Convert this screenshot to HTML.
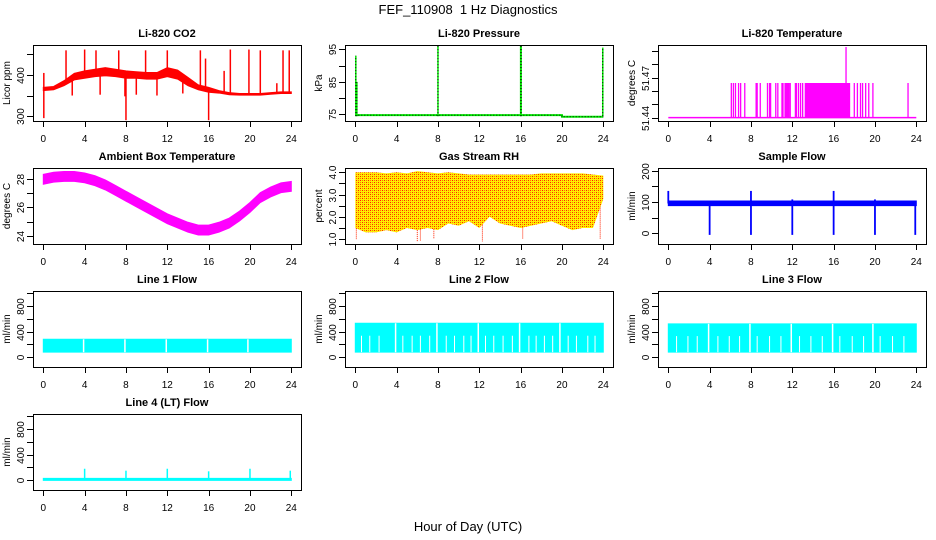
<!DOCTYPE html>
<html><head><meta charset="utf-8">
<style>
html,body{margin:0;padding:0;background:#fff;}
svg{display:block;font-family:"Liberation Sans",Arial,sans-serif;}
</style></head>
<body>
<svg id="chart" width="936" height="540" viewBox="0 0 936 540" xmlns="http://www.w3.org/2000/svg">
<defs>
<pattern id="rhpat" width="4" height="4" patternUnits="userSpaceOnUse">
<rect width="4" height="4" fill="#ffee00"/>
<rect x="0" y="0" width="1" height="1" fill="#ff2200"/>
<rect x="2" y="2" width="1" height="1" fill="#ff2200"/>
<rect x="2" y="0" width="1" height="1" fill="#ff7700"/>
<rect x="0" y="2" width="1" height="1" fill="#ff7700"/>
</pattern>
</defs>
<text x="468" y="14" text-anchor="middle" font-size="13">FEF_110908&#160; 1 Hz Diagnostics</text>
<text x="468" y="531" text-anchor="middle" font-size="13">Hour of Day (UTC)</text>
</svg>
<script>
// ---- data ----
const hours = [0,1,2,3,4,5,6,7,8,9,10,11,12,13,14,15,16,17,18,19,20,21,22,23,24];
const xTicks = [0,4,8,12,16,20,24];
// CO2
const co2Low  = [362,364,374,388,392,396,398,396,392,392,390,390,396,390,374,364,358,356,352,351,351,351,353,355,355];
const co2High = [370,372,386,404,410,414,418,414,410,408,406,406,418,412,394,376,370,362,357,355,355,355,357,359,359];
const co2SpikeHours  = [0.05,2.2,4.0,5.1,7.3,9.9,12.0,15.2,15.7,17.5,18.1,19.9,21.0,23.2,23.8,22.6,0.05,8.0,16.0,7.9,2.8,5.5,9.0,11.0,13.5];
const co2SpikeValues = [405,460,462,460,460,460,460,460,440,410,462,462,460,460,460,380,295,290,290,348,350,352,352,350,355];
// Pressure
const presBaseHours  = [0,20,20,24];
const presBaseValues = [74.8,74.8,74.3,74.3];
const presSpikeHours  = [0.05,0.15,8.0,16.0,16.05,23.95];
const presSpikeValues = [93,85,96,96,96,95.5];
// Li-820 temperature
const tempBase = 51.44;
const tempHigh = 51.466;
const tempPulseHours = [6.1,6.3,6.5,6.8,7.0,7.4,8.5,8.6,8.9,9.6,9.8,9.9,10.4,10.6,11.0,11.1,11.3,11.45,11.6,11.8,12.3,12.4,12.6,12.8,13.0,18.0,18.3,18.6,18.8,19.1,19.4,19.8,23.2];
const tempBlockStart = [13.2,11.3];
const tempBlockEnd   = [17.6,11.75];
const tempSpikeHour = 17.2, tempSpikeValue = 51.493;
// Ambient box temperature
const ambMid = [28.0,28.15,28.2,28.2,28.1,27.9,27.6,27.2,26.8,26.4,26.0,25.6,25.2,24.9,24.6,24.4,24.4,24.6,24.9,25.4,26.0,26.7,27.1,27.4,27.5];
const ambHalf = 0.35;
// Gas stream RH
const rhHigh = [4.0,4.0,4.0,3.95,4.0,3.95,4.05,4.0,3.95,4.0,3.95,3.9,3.9,3.9,3.9,3.9,3.9,3.9,3.95,3.95,3.95,3.95,3.95,3.9,3.85];
const rhLow  = [1.5,1.3,1.3,1.4,1.3,1.5,1.4,1.5,1.4,1.7,1.6,1.8,1.5,2.0,1.7,1.6,1.5,1.6,1.7,1.8,1.6,1.4,1.5,1.5,2.8];
const rhDipHours  = [0.1,6.0,6.3,7.6,12.3,16.2,23.7];
const rhDipValues = [1.0,0.9,0.9,1.0,0.9,1.0,1.0];
// Sample flow
const sfLow = 88, sfHigh = 103;
const sfSpikeHours  = [0.0,4.0,8.0,8.0,12.0,12.0,16.0,16.0,20.0,20.0,23.9];
const sfSpikeValues = [135,-5,-5,135,-5,108,-5,135,-5,108,-5];
// Line flows
const l1Low = 80, l1High = 280;
const l2Low = 80, l2High = 530;
const l3Low = 80, l3High = 520;
const flowGapHours = [3.9,7.9,11.9,15.9,19.8];
const l2StreakHours = [0.6,1.4,2.3,4.6,5.5,6.3,7.2,8.8,9.6,10.5,11.2,12.6,13.4,14.3,15.2,16.8,17.5,18.3,19.1,20.6,21.4,22.5,23.2];
const l3StreakHours = [0.8,1.9,2.8,4.8,5.9,6.9,8.6,9.8,10.9,12.7,13.8,14.9,16.6,17.8,18.9,20.5,21.7,22.8];
const l4Base = 15;
const l4SpikeHours  = [4.0,8.0,12.0,16.0,20.0,23.9];
const l4SpikeValues = [180,150,180,140,180,150];

// ---- layout ----
const NS = "http://www.w3.org/2000/svg";
const svg = document.getElementById('chart');
const cols = [33,345,658], rows = [45,168,291,414], PW = 268, PH = 76;
function el(tag, attrs, parent){ const e=document.createElementNS(NS,tag); for(const k in attrs) e.setAttribute(k,attrs[k]); (parent||svg).appendChild(e); return e; }

function makePanel(c, r, title, ylab, ylim, yticks, ylabels, name){
  const L = cols[c], T = rows[r];
  const g = el('g', {});
  
  
  const sx = h => L + 10.3 + h * (248/24);
  const sy = v => T + PH - (v - ylim[0]) / (ylim[1] - ylim[0]) * PH;
  const plot = el('g', {}, g);
  
  
  const box = el('rect', {x:L+0.5, y:T+0.5, width:PW, height:PH, fill:'none', stroke:'#000', 'stroke-width':1}, g);
  
  
  const t = el('text', {x:L+PW/2, y:T-8, 'text-anchor':'middle', 'font-size':11, 'font-weight':'bold'}, g);
  t.textContent = title;
  
  
  const yl = el('text', {x:0, y:0, 'text-anchor':'middle', 'font-size':10, transform:`translate(${L-23},${T+PH/2}) rotate(-90)`}, g);
  yl.textContent = ylab;
  
  
  const xa = el('g', {}, g);
  
  
  el('line', {x1:sx(0), x2:sx(24), y1:T+PH+0.5, y2:T+PH+0.5, stroke:'#000'}, xa);
  xTicks.forEach(v => {
    el('line', {x1:Math.round(sx(v))+0.5, x2:Math.round(sx(v))+0.5, y1:T+PH, y2:T+PH+6, stroke:'#000'}, xa);
    const tl = el('text', {x:sx(v), y:T+PH+21, 'text-anchor':'middle', 'font-size':10}, xa);
    tl.textContent = v;
    
    
  });
  const ya = el('g', {}, g);
  
  
  el('line', {x1:L+0.5, x2:L+0.5, y1:sy(yticks[0]), y2:sy(yticks[yticks.length-1]), stroke:'#000'}, ya);
  yticks.forEach((v,i) => {
    const y = Math.round(sy(v))+0.5;
    el('line', {x1:L-6, x2:L, y1:y, y2:y, stroke:'#000'}, ya);
    if (ylabels[i] !== '') {
      const tl = el('text', {x:0, y:0, 'text-anchor':'middle', 'font-size':10, transform:`translate(${L-9},${y}) rotate(-90)`}, ya);
      tl.textContent = ylabels[i];
      
      
    }
  });
  const cid = 'clip-' + name;
  const cp = el('clipPath', {id:cid}, svg);
  el('rect', {x:L, y:T, width:PW+1, height:PH+1}, cp);
  plot.setAttribute('clip-path', `url(#${cid})`);
  return {sx, sy, plot};
}
function band(p, xs, lo, hi, fill){
  let pts = xs.map((h,i)=>`${p.sx(h)},${p.sy(hi[i])}`);
  for (let i=xs.length-1;i>=0;i--) pts.push(`${p.sx(xs[i])},${p.sy(lo[i])}`);
  const poly = el('polygon', {points:pts.join(' '), fill:fill, stroke:fill.startsWith('url')?'none':fill, 'stroke-width':1}, p.plot);
  
  
}
function vseg(p, h, v0, v1, color, w, dash){
  const a = {x1:p.sx(h), x2:p.sx(h), y1:p.sy(v0), y2:p.sy(v1), stroke:color, 'stroke-width':w||1};
  if (dash) a['stroke-dasharray'] = dash;
  const ln = el('line', a, p.plot);
  
  
}
function interp(arr, h){ const i=Math.min(23,Math.floor(h)); const f=h-i; return arr[i]*(1-f)+arr[i+1]*f; }

// CO2
let p = makePanel(0,0,'Li-820 CO2','Licor ppm',[288,473],[300,350,400,450],['300','','400',''],'co2');
band(p, hours, co2Low, co2High, '#ff0000');
co2SpikeHours.forEach((h,i)=> vseg(p, h, (interp(co2Low,h)+interp(co2High,h))/2, co2SpikeValues[i], '#ff0000', 1.5));

// Pressure
p = makePanel(1,0,'Li-820 Pressure','kPa',[73,96.3],[75,80,85,90,95],['75','','85','','95'],'pressure');
{
  const pts = presBaseHours.map((h,i)=>`${p.sx(h)},${p.sy(presBaseValues[i])}`).join(' ');
  const pl = el('polyline', {points:pts, fill:'none', stroke:'#00ee00', 'stroke-width':2}, p.plot);
  
  
  const pd = el('polyline', {points:pts, fill:'none', stroke:'#000', 'stroke-width':1, 'stroke-dasharray':'1,2'}, p.plot);
  
  
  presSpikeHours.forEach((h,i)=>{ vseg(p,h,74.5,presSpikeValues[i],'#00ee00',1.5); vseg(p,h,74.5,presSpikeValues[i],'#000',1,'1,2'); });
}

// Li-820 temperature
p = makePanel(2,0,'Li-820 Temperature','degrees C',[51.4375,51.4945],[51.44,51.45,51.46,51.47,51.48,51.49],['51.44','','','51.47','',''],'li820-temperature');
{
  const bl = el('line', {x1:p.sx(0), x2:p.sx(24), y1:p.sy(tempBase), y2:p.sy(tempBase), stroke:'#ff00ff', 'stroke-width':1.5}, p.plot);
  
  
  tempPulseHours.forEach(h=>vseg(p,h,tempBase,tempHigh,'#ff00ff',1.3));
  tempBlockStart.forEach((s,i)=>{
    const r = el('rect', {x:p.sx(s), y:p.sy(tempHigh), width:p.sx(tempBlockEnd[i])-p.sx(s), height:p.sy(tempBase)-p.sy(tempHigh), fill:'#ff00ff'}, p.plot);
    
    
  });
  vseg(p,tempSpikeHour,tempBase,tempSpikeValue,'#ff00ff',1.3);
}

// Ambient
p = makePanel(0,1,'Ambient Box Temperature','degrees C',[23.41,28.8],[24,25,26,27,28],['24','','26','','28'],'ambient-temperature');
band(p, hours, ambMid.map(v=>v-ambHalf), ambMid.map(v=>v+ambHalf), '#ff00ff');

// RH
p = makePanel(1,1,'Gas Stream RH','percent',[0.78,4.19],[1.0,1.5,2.0,2.5,3.0,3.5,4.0],['1.0','','2.0','','3.0','','4.0'],'gas-stream-rh');
band(p, hours, rhLow, rhHigh, 'url(#rhpat)');
rhDipHours.forEach((h,i)=>vseg(p,h,interp(rhLow,h),rhDipValues[i],'#ff2200',1,'1,1'));

// Sample flow
p = makePanel(2,1,'Sample Flow','ml/min',[-34,208],[0,50,100,150,200],['0','','100','','200'],'sample-flow');
band(p, [0,24], [sfLow,sfLow], [sfHigh,sfHigh], '#0000ff');
sfSpikeHours.forEach((h,i)=>vseg(p,h,95,sfSpikeValues[i],'#0000ff',1.8));

// Line flows
function flowPanel(c,r,title,name,lo,hi,streaks){
  const q = makePanel(c,r,title,'ml/min',[-150,1030],[0,200,400,600,800,1000],['0','','400','','800',''],name);
  band(q, [0,24], [lo,lo], [hi,hi], '#00ffff');
  flowGapHours.forEach(h=>vseg(q,h,lo,hi,'#ffffff',1.5));
  streaks.forEach(h=>vseg(q,h,lo,(lo+hi)*0.55,'#ffffff',1));
  return q;
}
flowPanel(0,2,'Line 1 Flow','line1-flow',l1Low,l1High,[]);
flowPanel(1,2,'Line 2 Flow','line2-flow',l2Low,l2High,l2StreakHours);
flowPanel(2,2,'Line 3 Flow','line3-flow',l3Low,l3High,l3StreakHours);
p = makePanel(0,3,'Line 4 (LT) Flow','ml/min',[-150,1030],[0,200,400,600,800,1000],['0','','400','','800',''],'line4-flow');
band(p, [0,24], [l4Base-15,l4Base-15], [l4Base+15,l4Base+15], '#00ffff');
l4SpikeHours.forEach((h,i)=>vseg(p,h,l4Base,l4SpikeValues[i],'#00ffff',1.5));
</script>
</body></html>
